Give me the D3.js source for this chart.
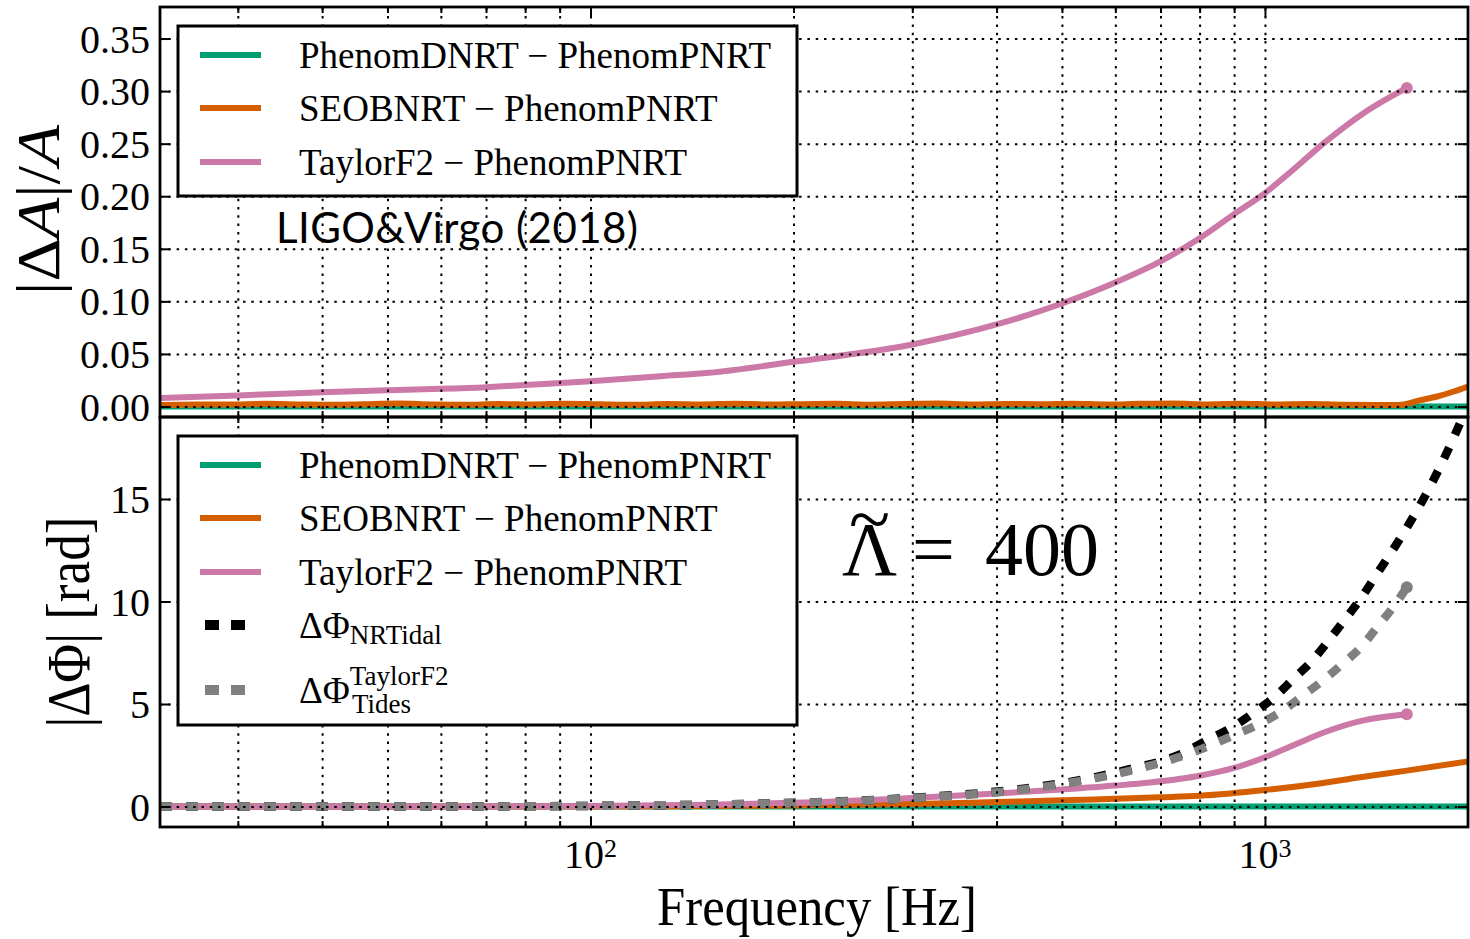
<!DOCTYPE html>
<html>
<head>
<meta charset="utf-8">
<script src="https://cdn.jsdelivr.net/npm/d3@7"></script>
<style>
  body { margin: 0; background: white; }
  svg { display: block; }
</style>
</head>
<body>
<svg id="chart" width="1470" height="939"></svg>
<script>

// ---- data ----

// top panel, |dA|/A
const ampFreqPhenomD = [23, 100, 1000, 2000]
const ampPhenomD = [0, 0, 0, 0]

const ampFreqSEOB = [23, 26, 29, 33, 37, 41, 46, 52, 58, 65, 73, 82, 92, 103, 116, 130, 146, 164, 184, 206, 231, 259, 291, 327, 367, 412, 462, 518, 581, 652, 732, 821, 921, 1034, 1160, 1302, 1461, 1580, 1700, 1800, 1900, 2000]
const ampSEOB = [0.0015, 0.002, 0.0018, 0.0025, 0.002, 0.0016, 0.0022, 0.0028, 0.002, 0.0017, 0.0023, 0.0019, 0.0026, 0.0021, 0.0016, 0.0024, 0.002, 0.0027, 0.0018, 0.0022, 0.0025, 0.0017, 0.0023, 0.0028, 0.0019, 0.0024, 0.0021, 0.0027, 0.0018, 0.0025, 0.0029, 0.002, 0.0026, 0.0019, 0.0024, 0.0017, 0.0015, 0.0015, 0.006, 0.0095, 0.014, 0.019]

const ampFreqTF2 = [23, 30, 40, 50, 60, 70, 80, 100, 127, 150, 200, 300, 400, 500, 600, 700, 800, 900, 1000, 1100, 1220, 1400, 1623]
const ampTF2 = [0.008, 0.0105, 0.0136, 0.0155, 0.0168, 0.0184, 0.0205, 0.024, 0.0288, 0.032, 0.0425, 0.059, 0.078, 0.098, 0.118, 0.138, 0.16, 0.183, 0.203, 0.225, 0.25, 0.279, 0.303]

// bottom panel, |dPhi| in rad
const phaseFreqPhenomD = [23, 100, 1000, 2000]
const phasePhenomD = [0, 0, 0, 0]

const phaseFreqSEOB = [23, 100, 150, 200, 300, 400, 500, 600, 700, 800, 1000, 1220, 1400, 1623, 2000]
const phaseSEOB = [0, 0, 0.02, 0.05, 0.12, 0.22, 0.3, 0.38, 0.45, 0.52, 0.8, 1.15, 1.45, 1.75, 2.2]

const phaseFreqTF2 = [23, 60, 100, 150, 200, 300, 400, 500, 600, 675, 800, 900, 1000, 1100, 1220, 1400, 1623]
const phaseTF2 = [0, 0, 0.03, 0.09, 0.18, 0.42, 0.63, 0.83, 1.02, 1.17, 1.5, 1.88, 2.4, 2.98, 3.6, 4.2, 4.5]

const phaseFreqNRTidal = [23, 60, 100, 155, 221, 264, 316, 378, 453, 541, 641, 700, 755, 823, 893, 960, 1034, 1100, 1174, 1240, 1305, 1384, 1456, 1602, 1757, 1881, 2000]
const phaseNRTidal = [0, 0, 0.03, 0.1, 0.22, 0.32, 0.47, 0.65, 0.93, 1.33, 1.88, 2.2, 2.6, 3.25, 3.85, 4.55, 5.35, 6.2, 7.1, 8.05, 9.0, 10.1, 11.2, 13.3, 15.6, 17.6, 19.6]

const phaseFreqTF2Tides = [23, 60, 100, 155, 221, 264, 316, 378, 453, 541, 641, 761, 903, 977, 1060, 1135, 1215, 1300, 1392, 1471, 1559, 1623]
const phaseTF2Tides = [0, 0, 0.03, 0.1, 0.21, 0.31, 0.45, 0.62, 0.89, 1.28, 1.8, 2.5, 3.5, 4.0, 4.65, 5.38, 6.11, 6.93, 7.82, 8.8, 9.85, 10.7]

// ticks and labels
const xMajorTicks = [100, 1000]
const xMinorTicks = [30, 40, 50, 60, 70, 80, 90, 200, 300, 400, 500, 600, 700, 800, 900]
const ampTicks = [0, 0.05, 0.10, 0.15, 0.20, 0.25, 0.30, 0.35]
const phaseTicks = [0, 5, 10, 15]
const legendLabels = ["PhenomDNRT \u2212 PhenomPNRT", "SEOBNRT \u2212 PhenomPNRT", "TaylorF2 \u2212 PhenomPNRT"]

// ---- layout ----
const width = 1470
const height = 939
const left = 160
const right = 1468
const panelTop = { top: 7, bottom: 417 }
const panelBottom = { top: 417, bottom: 827 }

const colours = { green: "#009E73", orange: "#D55E00", pink: "#CC79A7", black: "#000000", grey: "#808080" }
const serif = "'Liberation Serif', 'DejaVu Serif', serif"

const svg = d3.select("#chart")
    .attr("width", width)
    .attr("height", height)

const x = d3.scaleLog()
    .domain([23, 2000])
    .range([left, right])

const yAmp = d3.scaleLinear()
    .domain([-0.01, 0.38])
    .range([panelTop.bottom, panelTop.top])

const yPhase = d3.scaleLinear()
    .domain([-1, 19])
    .range([panelBottom.bottom, panelBottom.top])

// clip paths for the two panels
const defs = svg.append("defs")
defs.append("clipPath").attr("id", "clip-top")
    .append("rect")
    .attr("x", left).attr("y", panelTop.top)
    .attr("width", right - left).attr("height", panelTop.bottom - panelTop.top)
defs.append("clipPath").attr("id", "clip-bottom")
    .append("rect")
    .attr("x", left).attr("y", panelBottom.top)
    .attr("width", right - left).attr("height", panelBottom.bottom - panelBottom.top)

/**
 * Draws one curve, given frequencies and values, into group g
 */
function drawSeries(g, y, freqs, values, colour, dashed) {
    const line = d3.line()
        .x((d, i) => x(freqs[i]))
        .y((d) => y(d))
        .curve(d3.curveMonotoneX)

    const path = g.append("path")
        .datum(values)
        .attr("d", line)
        .attr("fill", "none")
        .attr("stroke", colour)

    if (dashed)
        path.attr("stroke-width", 8.5).attr("stroke-dasharray", "12,14")
    else
        path.attr("stroke-width", 6).attr("stroke-linejoin", "round")
    return path
}

function drawEndMarker(g, y, freqs, values, colour) {
    g.append("circle")
        .attr("cx", x(freqs[freqs.length - 1]))
        .attr("cy", y(values[values.length - 1]))
        .attr("r", 6)
        .attr("fill", colour)
}

/**
 * Grid, frame and inward ticks on all four sides of a panel
 */
function drawAxes(panel, y, yTicks, yFormat) {
    const h = panel.bottom - panel.top
    const w = right - left

    // dotted grid, drawn over the curves like the original
    const grid = svg.append("g").attr("class", "grid")
    grid.append("g")
        .attr("transform", `translate(0, ${panel.bottom})`)
        .call(d3.axisBottom(x).tickValues(xMajorTicks.concat(xMinorTicks)).tickSize(-h).tickFormat(""))
    grid.append("g")
        .attr("transform", `translate(${left}, 0)`)
        .call(d3.axisLeft(y).tickValues(yTicks).tickSize(-w).tickFormat(""))
    grid.selectAll(".domain").remove()
    grid.selectAll("line")
        .attr("stroke", "black")
        .attr("stroke-width", 2)
        .attr("stroke-dasharray", "2.5,5.8")

    const ticks = svg.append("g").attr("class", "ticks")
    ticks.append("g")
        .attr("transform", `translate(0, ${panel.bottom})`)
        .call(d3.axisBottom(x).tickValues(xMajorTicks).tickSizeInner(-10).tickSizeOuter(0).tickFormat(""))
    ticks.append("g")
        .attr("transform", `translate(0, ${panel.bottom})`)
        .call(d3.axisBottom(x).tickValues(xMinorTicks).tickSizeInner(-6).tickSizeOuter(0).tickFormat(""))
    ticks.append("g")
        .attr("transform", `translate(0, ${panel.top})`)
        .call(d3.axisTop(x).tickValues(xMajorTicks).tickSizeInner(-10).tickSizeOuter(0).tickFormat(""))
    ticks.append("g")
        .attr("transform", `translate(0, ${panel.top})`)
        .call(d3.axisTop(x).tickValues(xMinorTicks).tickSizeInner(-6).tickSizeOuter(0).tickFormat(""))
    ticks.append("g")
        .attr("transform", `translate(${right}, 0)`)
        .call(d3.axisRight(y).tickValues(yTicks).tickSizeInner(-10).tickSizeOuter(0).tickFormat(""))

    const yAxis = ticks.append("g")
        .attr("transform", `translate(${left}, 0)`)
        .call(d3.axisLeft(y).tickValues(yTicks).tickSizeInner(-10).tickSizeOuter(0).tickPadding(10).tickFormat(yFormat))
    yAxis.selectAll("text")
        .attr("font-family", serif)
        .attr("font-size", 40)
        .attr("fill", "black")
        .attr("dy", "0.34em")

    ticks.selectAll(".domain").remove()
    ticks.selectAll("line").attr("stroke", "black").attr("stroke-width", 2)

    svg.append("rect")
        .attr("x", left)
        .attr("y", panel.top)
        .attr("width", w)
        .attr("height", h)
        .attr("fill", "none")
        .attr("stroke", "black")
        .attr("stroke-width", 2.8)
}

/**
 * Legend box in the upper left corner of a panel
 */
function drawLegend(top, boxHeight, items) {
    const legend = svg.append("g").attr("transform", `translate(178, ${top})`)

    legend.append("rect")
        .attr("width", 619)
        .attr("height", boxHeight)
        .attr("fill", "white")
        .attr("stroke", "black")
        .attr("stroke-width", 3)

    const rows = legend.selectAll("g.row")
        .data(items)
        .join("g")
        .attr("class", "row")
        .attr("transform", (d) => `translate(0, ${d.y})`)

    rows.append("line")
        .attr("x1", (d) => d.dashed ? 27 : 22)
        .attr("x2", (d) => d.dashed ? 68 : 83)
        .attr("stroke", (d) => d.colour)
        .attr("stroke-width", (d) => d.dashed ? 10 : 6)
        .attr("stroke-dasharray", (d) => d.dashed ? "14,12" : null)

    rows.append("text")
        .attr("x", 121)
        .attr("y", 13)
        .attr("font-family", serif)
        .attr("font-size", 37)
        .attr("fill", "black")
        .each(function(d) {
            const t = d3.select(this)
            if (d.label) {
                t.text(d.label)
            } else {
                t.append("tspan").text("\u0394\u03A6")
                if (d.sup) {
                    t.append("tspan").attr("font-size", 27).attr("dy", -18).text(d.sup)
                    t.append("tspan").attr("font-size", 27).attr("x", 174).attr("dy", 28).text(d.sub)
                } else {
                    t.append("tspan").attr("font-size", 27).attr("dy", 6).text(d.sub)
                }
            }
        })
}

// ---- top panel: amplitude difference ----
const gTop = svg.append("g").attr("clip-path", "url(#clip-top)")
drawSeries(gTop, yAmp, ampFreqPhenomD, ampPhenomD, colours.green, false)
drawSeries(gTop, yAmp, ampFreqSEOB, ampSEOB, colours.orange, false)
drawSeries(gTop, yAmp, ampFreqTF2, ampTF2, colours.pink, false)
drawEndMarker(gTop, yAmp, ampFreqTF2, ampTF2, colours.pink)
drawAxes(panelTop, yAmp, ampTicks, d3.format(".2f"))

// ---- bottom panel: phase difference ----
const gBottom = svg.append("g").attr("clip-path", "url(#clip-bottom)")
drawSeries(gBottom, yPhase, phaseFreqPhenomD, phasePhenomD, colours.green, false)
drawSeries(gBottom, yPhase, phaseFreqSEOB, phaseSEOB, colours.orange, false)
drawSeries(gBottom, yPhase, phaseFreqTF2, phaseTF2, colours.pink, false)
drawEndMarker(gBottom, yPhase, phaseFreqTF2, phaseTF2, colours.pink)
drawSeries(gBottom, yPhase, phaseFreqNRTidal, phaseNRTidal, colours.black, true)
drawSeries(gBottom, yPhase, phaseFreqTF2Tides, phaseTF2Tides, colours.grey, true)
drawEndMarker(gBottom, yPhase, phaseFreqTF2Tides, phaseTF2Tides, colours.grey)
drawAxes(panelBottom, yPhase, phaseTicks, d3.format("d"))

// legends
drawLegend(26, 170, [
    { label: legendLabels[0], colour: colours.green, y: 29 },
    { label: legendLabels[1], colour: colours.orange, y: 82 },
    { label: legendLabels[2], colour: colours.pink, y: 136 }
])
drawLegend(436, 289, [
    { label: legendLabels[0], colour: colours.green, y: 29 },
    { label: legendLabels[1], colour: colours.orange, y: 82 },
    { label: legendLabels[2], colour: colours.pink, y: 136 },
    { sub: "NRTidal", colour: colours.black, dashed: true, y: 189 },
    { sup: "TaylorF2", sub: "Tides", colour: colours.grey, dashed: true, y: 254 }
])

// x tick labels, 10^n
svg.append("g")
    .selectAll("text")
    .data(xMajorTicks)
    .join("text")
    .attr("x", (d) => x(d))
    .attr("y", 868)
    .attr("text-anchor", "middle")
    .attr("font-family", serif)
    .attr("font-size", 40)
    .each(function(d) {
        const t = d3.select(this)
        t.append("tspan").text("10")
        t.append("tspan").attr("font-size", 26).attr("dy", -11).text(Math.round(Math.log10(d)))
    })

// axis titles
svg.append("text")
    .attr("x", 657)
    .attr("y", 925)
    .attr("font-family", serif)
    .attr("font-size", 55)
    .attr("textLength", 320)
    .attr("lengthAdjust", "spacingAndGlyphs")
    .text("Frequency [Hz]")

const yTitleTop = svg.append("text")
    .attr("transform", "translate(59, 210) rotate(-90)")
    .attr("text-anchor", "middle")
    .attr("font-family", serif)
    .attr("font-size", 62)
    .attr("textLength", 170)
    .attr("lengthAdjust", "spacingAndGlyphs")
yTitleTop.append("tspan").text("|\u0394")
yTitleTop.append("tspan").attr("font-style", "italic").text("A")
yTitleTop.append("tspan").text("|/")
yTitleTop.append("tspan").attr("font-style", "italic").text("A")

svg.append("text")
    .attr("transform", "translate(89, 622) rotate(-90)")
    .attr("text-anchor", "middle")
    .attr("font-family", serif)
    .attr("font-size", 62)
    .attr("textLength", 211)
    .attr("lengthAdjust", "spacingAndGlyphs")
    .text("|\u0394\u03A6| [rad]")

// annotations
svg.append("text")
    .attr("x", 276)
    .attr("y", 243)
    .attr("font-family", "Lato, 'Liberation Sans', sans-serif")
    .attr("font-size", 42)
    .attr("textLength", 362)
    .text("LIGO&Virgo (2018)")

// Lambda-tilde: the tilde is a tspan raised over the letter, same text element
const lambda = svg.append("g").attr("font-family", serif).attr("font-size", 76)
const lambdaText = lambda.append("text").attr("x", 842).attr("y", 575)
lambdaText.append("tspan").text("\u039B")
lambdaText.append("tspan").attr("x", 849).attr("dy", -30).text("~")
lambda.append("text").attr("x", 912).attr("y", 575).text("=")
lambda.append("text").attr("x", 985).attr("y", 575).text("400")

</script>
</body>
</html>
